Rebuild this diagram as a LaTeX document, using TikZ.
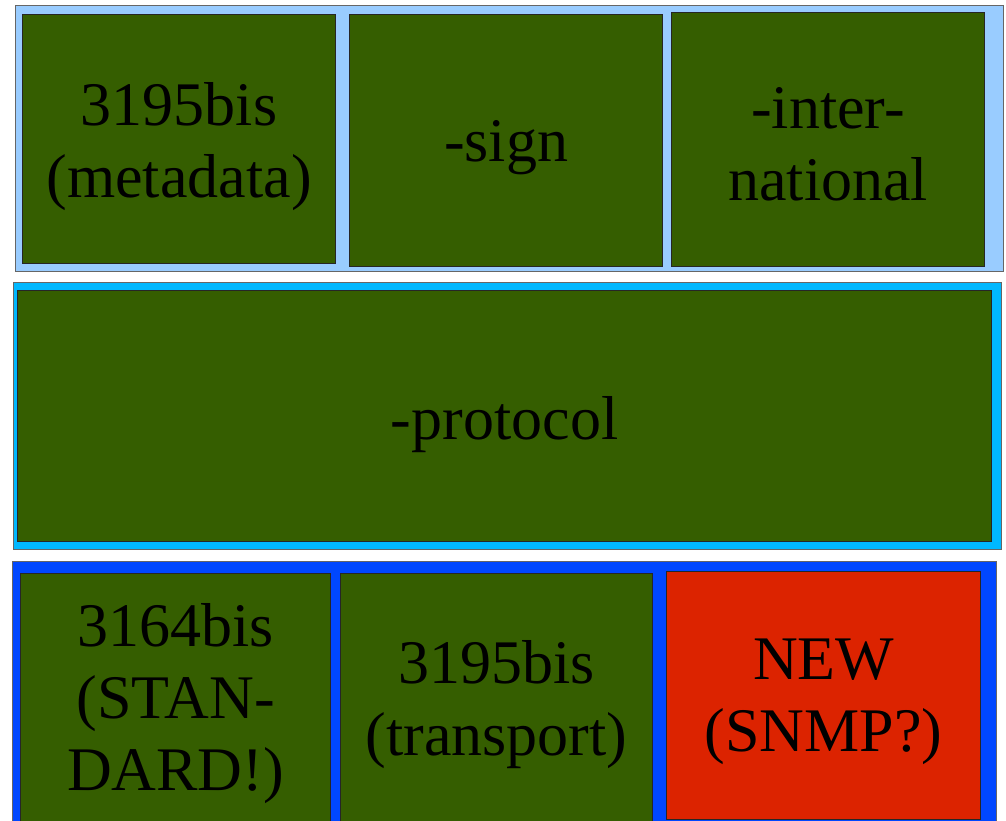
\documentclass[tikz,border=0pt]{standalone}
\usepackage{fontspec}
\setmainfont{Liberation Serif}
\definecolor{moss}{HTML}{355E00}
\definecolor{paleblue}{HTML}{99CCFF}
\definecolor{skyblue}{HTML}{00B8FF}
\definecolor{royal}{HTML}{0047FF}
\definecolor{alarm}{HTML}{DC2300}
\tikzset{
  band/.style={draw=black!60, line width=1.4pt, inner sep=0pt, anchor=north west},
  cell/.style={draw=black!85, line width=1.2pt, fill=moss, inner sep=0pt,
    anchor=north west},
  lbl/.style={align=center, text=black, inner sep=0pt,
    font=\fontsize{62}{72}\selectfont},
}
\begin{document}
\begin{tikzpicture}[x=1pt, y=-1pt]
  \useasboundingbox (0,0) rectangle (1006,821);
  % layer bands
  \node[band, fill=paleblue, minimum width=988pt, minimum height=266pt] (topband) at (15,5) {};
  \node[band, fill=skyblue, minimum width=988pt, minimum height=267pt] (midband) at (13,282) {};
  \node[band, fill=royal, minimum width=984pt, minimum height=280pt] (lowband) at (12,561) {};
  % top layer
  \node[cell, minimum width=313pt, minimum height=249pt,
    label={[lbl, yshift=-7pt]center:{3195bis\\(metadata)}}] (meta) at (22,14) {};
  \node[cell, minimum width=313pt, minimum height=252pt,
    label={[lbl, yshift=-7pt]center:{-sign}}] (sign) at (349,14) {};
  \node[cell, minimum width=313pt, minimum height=254pt,
    label={[lbl, yshift=-5pt]center:{-inter-\\national}}] (intl) at (671,12) {};
  % middle layer
  \node[cell, minimum width=974pt, minimum height=251pt,
    label={[lbl, yshift=-8pt]center:{-protocol}}] (proto) at (17,290) {};
  % bottom layer
  \node[cell, minimum width=310pt, minimum height=258pt,
    label={[lbl, yshift=-1pt]center:{3164bis\\(STAN-\\DARD!)}}] (std) at (20,573) {};
  \node[cell, minimum width=312pt, minimum height=258pt,
    label={[lbl, yshift=-2pt]center:{3195bis\\(transport)}}] (trans) at (340,573) {};
  \node[cell, fill=alarm, minimum width=314pt, minimum height=248pt,
    label={[lbl, yshift=-6pt]center:{NEW\\(SNMP?)}}] (snmp) at (666,571) {};
\end{tikzpicture}
\end{document}
